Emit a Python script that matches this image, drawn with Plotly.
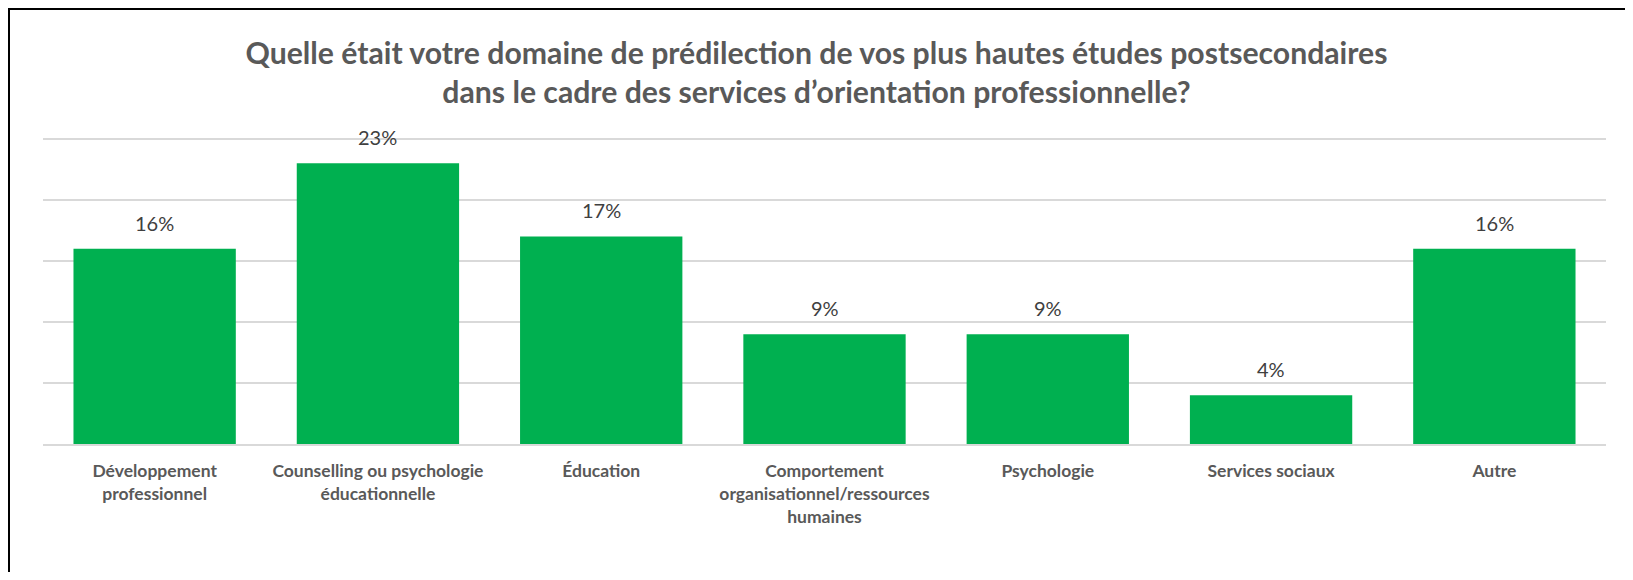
import plotly.graph_objects as go

categories = [
    "Développement<br>professionnel",
    "Counselling ou psychologie<br>éducationnelle",
    "Éducation",
    "Comportement<br>organisationnel/ressources<br>humaines",
    "Psychologie",
    "Services sociaux",
    "Autre",
]
values = [16, 23, 17, 9, 9, 4, 16]
value_labels = ["16%", "23%", "17%", "9%", "9%", "4%", "16%"]
title_text = ("<b>Quelle était votre domaine de prédilection de vos plus hautes études postsecondaires<br>"
              "dans le cadre des services d’orientation professionnelle?</b>")

GREEN = "#00B050"
GRID = "#D9D9D9"
FONT = "Lato"

fig = go.Figure()
fig.add_trace(go.Bar(
    x=categories, y=values, marker=dict(color=GREEN, line=dict(width=0)),
    hoverinfo="skip",
))

for c, v, t in zip(categories, values, value_labels):
    fig.add_annotation(x=c, y=v, text=t, showarrow=False, yanchor="middle", yshift=26,
                       font=dict(family=FONT, size=20, color="#404040"))

# page has an 8px body margin; figure is sized to fit inside the window
W, H = 1617, 564
ml, mr, mt, mb = 35, 19, 129, 128
pw = W - ml - mr
ph = H - mt - mb

def px_to_paper_x(px):
    return (px - ml) / pw

def px_to_paper_y(py):
    return (H - mb - py) / ph

# outer border (top and left visible)
fig.add_shape(type="line", xref="paper", yref="paper",
              x0=px_to_paper_x(0), x1=px_to_paper_x(W + 20),
              y0=px_to_paper_y(0.5), y1=px_to_paper_y(0.5),
              line=dict(color="#000000", width=3))
fig.add_shape(type="line", xref="paper", yref="paper",
              x0=px_to_paper_x(0.5), x1=px_to_paper_x(0.5),
              y0=px_to_paper_y(0), y1=px_to_paper_y(H + 20),
              line=dict(color="#000000", width=3))

fig.update_layout(
    width=W, height=H,
    margin=dict(l=ml, r=mr, t=mt, b=mb),
    paper_bgcolor="white", plot_bgcolor="white",
    bargap=0.273,
    showlegend=False,
    title=dict(text=title_text, x=0.5, xanchor="center", y=1 - 55.5 / H, yanchor="middle",
               font=dict(family=FONT, size=30.2, color="#595959")),
    xaxis=dict(showgrid=False, showline=True, linecolor=GRID, linewidth=2,
               ticks="", tickfont=dict(family=FONT, size=17.5, color="#595959"),
               ticklabelstandoff=10, tickangle=0),
    yaxis=dict(range=[0, 25.15], dtick=5, showgrid=True, gridcolor=GRID, gridwidth=2,
               showticklabels=False, zeroline=False, showline=False, ticks=""),
)
fig.update_xaxes(tickprefix="<b>", ticksuffix="</b>")

fig.write_html("out.html")
